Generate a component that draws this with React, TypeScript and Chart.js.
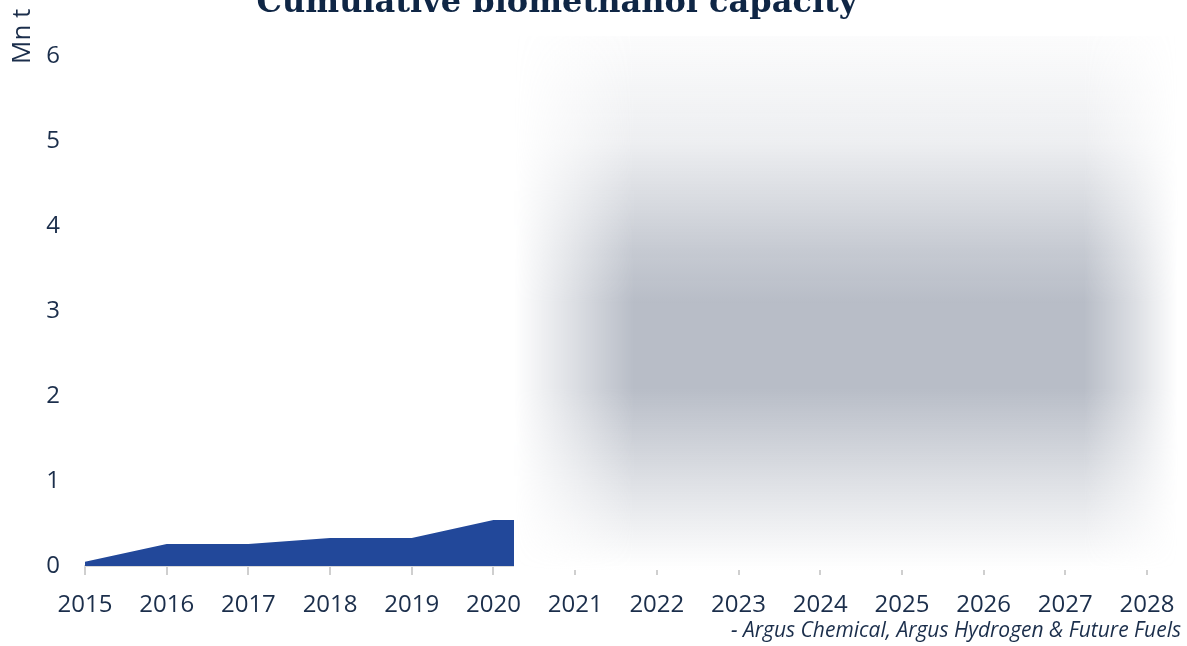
import React, { useEffect, useRef } from "react";
import { Chart, registerables } from "chart.js";

Chart.register(...registerables);

const years = ["2015", "2016", "2017", "2018", "2019", "2020", "2021", "2022", "2023", "2024", "2025", "2026", "2027", "2028"];
const capacity: (number | null)[] = [0.05, 0.26, 0.26, 0.33, 0.33, 0.54, 0.54, null, null, null, null, null, null, null];
const yMin = 0;
const yMax = 6;
const yStep = 1;
const titleText = "Cumulative biomethanol capacity";
const titleNote = "¹";
const unitLabel = "Mn t";
const sourceText = "- Argus Chemical, Argus Hydrogen & Future Fuels";

const navy = "#1b2e4b";
const titleNavy = "#0f2645";
const areaBlue = "#22489a";

const textPlugin = {
  id: "textPlugin",
  afterDraw(chart: any) {
    const ctx = chart.ctx as CanvasRenderingContext2D;
    ctx.save();
    // title
    ctx.font = 'bold 32px "DejaVu Serif"';
    ctx.fillStyle = titleNavy;
    ctx.textBaseline = "alphabetic";
    ctx.textAlign = "center";
    const tw = ctx.measureText(titleText).width;
    const cx = 557;
    ctx.fillText(titleText, cx, 12);
    ctx.font = 'bold 16px "DejaVu Serif"';
    ctx.textAlign = "left";
    ctx.fillText(titleNote, cx + tw / 2 + 6, 4);
    // unit label
    ctx.save();
    ctx.translate(30, 64);
    ctx.rotate(-Math.PI / 2);
    ctx.font = '26px "Open Sans"';
    ctx.fillStyle = navy;
    ctx.textAlign = "left";
    ctx.fillText(unitLabel, 0, 0);
    ctx.restore();
    // source
    ctx.font = 'italic 21px "Open Sans"';
    ctx.fillStyle = navy;
    ctx.textAlign = "right";
    ctx.fillText(sourceText, 1181, 637);
    ctx.restore();
  },
};

export default function App() {
  const canvasRef = useRef<HTMLCanvasElement | null>(null);

  useEffect(() => {
    document.body.style.margin = "0";
    const canvas = canvasRef.current;
    if (!canvas) return;
    const chart = new Chart(canvas, {
      type: "line",
      data: {
        labels: years,
        datasets: [
          {
            data: capacity,
            backgroundColor: areaBlue,
            borderColor: areaBlue,
            borderWidth: 0,
            pointRadius: 0,
            fill: "origin",
            tension: 0,
            spanGaps: false,
          },
        ],
      },
      options: {
        responsive: false,
        animation: false,
        layout: { padding: { top: 56, right: 40, left: 0, bottom: 0 } },
        plugins: {
          legend: { display: false },
          title: { display: false },
          tooltip: { enabled: false },
        },
        scales: {
          x: {
            type: "category",
            offset: false,
            grid: {
              display: true,
              drawOnChartArea: false,
              drawTicks: true,
              tickLength: 9,
              color: "#cfcfcf",
              lineWidth: 2,
            },
            border: { display: true, color: "#d9d9d9", width: 2 },
            ticks: {
              font: { family: "Open Sans", size: 24 },
              color: navy,
              padding: 16,
              maxRotation: 0,
              autoSkip: false,
            },
            afterFit: (s: any) => {
              s.height = 80;
              s.paddingRight = 0;
            },
          },
          y: {
            min: yMin,
            max: yMax,
            grid: { display: false, drawTicks: false },
            border: { display: false },
            ticks: {
              stepSize: yStep,
              font: { family: "Open Sans", size: 24 },
              color: navy,
              padding: 25,
            },
            afterFit: (s: any) => {
              s.width = 85;
            },
          },
        },
      },
      plugins: [textPlugin],
    } as any);
    return () => chart.destroy();
  }, []);

  const grey = "184,189,199";
  return (
    <div style={{ position: "fixed", left: 0, top: 0, width: 1187, height: 646, background: "#fff" }}>
      <canvas ref={canvasRef} width={1187} height={646} style={{ position: "absolute", left: 0, top: 0, width: 1187, height: 646 }} />
      <div
        style={{
          position: "absolute",
          left: 514,
          top: 36,
          width: 664,
          height: 534,
          background: "#fff",
          overflow: "hidden",
        }}
      >
        <div
          style={{
            position: "absolute",
            inset: 0,
            background: `linear-gradient(to bottom, rgba(${grey},0.05) 0%, rgba(${grey},0.25) 20%, rgba(${grey},0.8) 40%, rgba(${grey},1) 50%, rgba(${grey},1) 66%, rgba(${grey},0.45) 84%, rgba(${grey},0.08) 97%, rgba(${grey},0) 100%)`,
            WebkitMaskImage: "linear-gradient(to right, transparent 0px, rgba(0,0,0,0.45) 55px, black 120px, black 570px, rgba(0,0,0,0.5) 620px, transparent 664px)",
            maskImage: "linear-gradient(to right, transparent 0px, rgba(0,0,0,0.45) 55px, black 120px, black 570px, rgba(0,0,0,0.5) 620px, transparent 664px)",
          } as any}
        />
      </div>
    </div>
  );
}
